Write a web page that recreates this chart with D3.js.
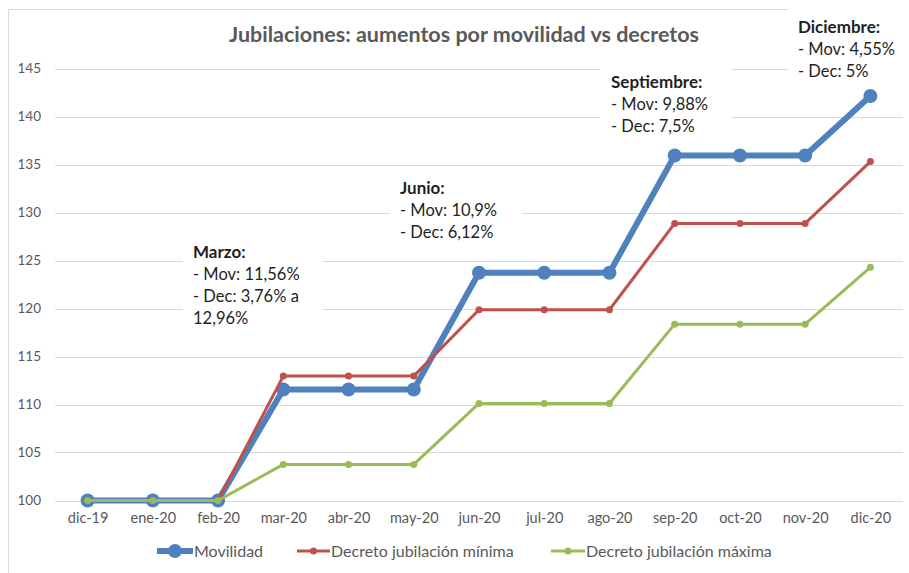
<!DOCTYPE html>
<html>
<head>
<meta charset="utf-8">
<script src="https://cdn.jsdelivr.net/npm/d3@7"></script>
<style>
  html, body { margin: 0; padding: 0; background: #fff; }
  svg { display: block; font-family: Lato, "Open Sans", sans-serif; }
</style>
</head>
<body>
<svg id="chart" width="909" height="573"></svg>
<script>
// ---- data ----
const categories = ["dic-19","ene-20","feb-20","mar-20","abr-20","may-20","jun-20","jul-20","ago-20","sep-20","oct-20","nov-20","dic-20"];
const movilidad = [100,100,100,111.56,111.56,111.56,123.72,123.72,123.72,135.94,135.94,135.94,142.13];
const decretoMinima = [100,100,100,112.96,112.96,112.96,119.87,119.87,119.87,128.86,128.86,128.86,135.30];
const decretoMaxima = [100,100,100,103.76,103.76,103.76,110.11,110.11,110.11,118.37,118.37,118.37,124.29];
const yTicks = [100,105,110,115,120,125,130,135,140,145];
const seriesNames = ["Movilidad","Decreto jubilación mínima","Decreto jubilación máxima"];
const titleText = "Jubilaciones: aumentos por movilidad vs decretos";
const annotations = [
  {cat: "mar-20", lines: ["Marzo:", "- Mov: 11,56%", "- Dec: 3,76% a", "12,96%"]},
  {cat: "jun-20", lines: ["Junio:", "- Mov: 10,9%", "- Dec: 6,12%"]},
  {cat: "sep-20", lines: ["Septiembre:", "- Mov: 9,88%", "- Dec: 7,5%"]},
  {cat: "dic-20", lines: ["Diciembre:", "- Mov: 4,55%", "- Dec: 5%"]}
];

// ---- styles ----
const colors = ["#4F81BD", "#C0504D", "#9BBB59"];
const widths = [6, 3, 3];
const radii = [7, 3.5, 3.5];
const gray = "#595959";

const svg = d3.select("#chart");

// chart frame
svg.append("rect").attr("x", 8.5).attr("y", 9.5).attr("width", 920).attr("height", 600)
  .attr("fill", "#fff").attr("stroke", "#d9d9d9").attr("stroke-width", 1);

const x = d3.scalePoint().domain(categories).range([55, 903]).padding(0.5);
const y = d3.scaleLinear().domain([100, 145]).range([500.5, 68.5]);

// gridlines
svg.append("g").selectAll("line").data(yTicks).join("line")
  .attr("x1", 55).attr("x2", 903)
  .attr("y1", d => Math.round(y(d)) + 0.5).attr("y2", d => Math.round(y(d)) + 0.5)
  .attr("stroke", "#d9d9d9").attr("stroke-width", 1);

// y axis labels
const yAxis = d3.axisLeft(y).tickValues(yTicks).tickSize(0).tickPadding(0);
const gy = svg.append("g").attr("transform", "translate(41,0)").call(yAxis);
gy.select(".domain").remove();
gy.selectAll("text").attr("fill", gray).style("font-size", "13.5px").style("font-family", "Lato, sans-serif");

// x axis labels
const xAxis = d3.axisBottom(x).tickSize(0).tickPadding(0);
const gx = svg.append("g").attr("transform", "translate(0,513)").call(xAxis);
gx.select(".domain").remove();
gx.selectAll("text").attr("fill", gray).style("font-size", "14.5px").style("font-family", "Lato, sans-serif");

// title
svg.append("text").attr("x", 464).attr("y", 42).attr("text-anchor", "middle")
  .attr("fill", gray).style("font-size", "21.5px").style("font-weight", "bold")
  .text(titleText);

// annotation boxes
const boxes = [
  {x0: 183, y0: 237, w: 140, h: 93, tx: 193, ty: 258},
  {x0: 390, y0: 175, w: 132, h: 70, tx: 400, ty: 194},
  {x0: 600, y0: 62, w: 132, h: 74, tx: 611, ty: 88},
  {x0: 788, y0: 0, w: 121, h: 86, tx: 798, ty: 33}
];
annotations.forEach((a, i) => {
  const b = boxes[i];
  const g = svg.append("g");
  g.append("rect").attr("x", b.x0).attr("y", b.y0).attr("width", b.w).attr("height", b.h).attr("fill", "#fff");
  g.selectAll("text").data(a.lines).join("text")
    .attr("x", b.tx).attr("y", (d, j) => b.ty + j * 22)
    .attr("fill", "#1f1f1f")
    .style("font-size", (d, j) => j === 0 ? "17px" : "16.5px")
    .style("font-weight", (d, j) => j === 0 ? "bold" : "normal")
    .text(d => d);
});

// series
const allSeries = [movilidad, decretoMinima, decretoMaxima];
const line = d3.line().x((d, i) => x(categories[i])).y(d => y(d));
allSeries.forEach((vals, s) => {
  const g = svg.append("g");
  g.append("path").datum(vals).attr("d", line).attr("fill", "none")
    .attr("stroke", colors[s]).attr("stroke-width", widths[s]).attr("stroke-linejoin", "round");
  g.selectAll("circle").data(vals).join("circle")
    .attr("cx", (d, i) => x(categories[i])).attr("cy", d => y(d)).attr("r", radii[s])
    .attr("fill", colors[s]);
});

// legend
const legendItems = [
  {lx: 157, lw: 36},
  {lx: 297, lw: 33},
  {lx: 551, lw: 34}
];
const ly = 551;
seriesNames.forEach((name, s) => {
  const it = legendItems[s];
  const g = svg.append("g");
  g.append("line").attr("x1", it.lx).attr("x2", it.lx + it.lw).attr("y1", ly).attr("y2", ly)
    .attr("stroke", colors[s]).attr("stroke-width", widths[s]);
  g.append("circle").attr("cx", it.lx + it.lw / 2).attr("cy", ly).attr("r", radii[s]).attr("fill", colors[s]);
  g.append("text").attr("x", it.lx + it.lw + 1).attr("y", ly + 5.5)
    .attr("fill", gray).style("font-size", "16px").text(name);
});
</script>
</body>
</html>
